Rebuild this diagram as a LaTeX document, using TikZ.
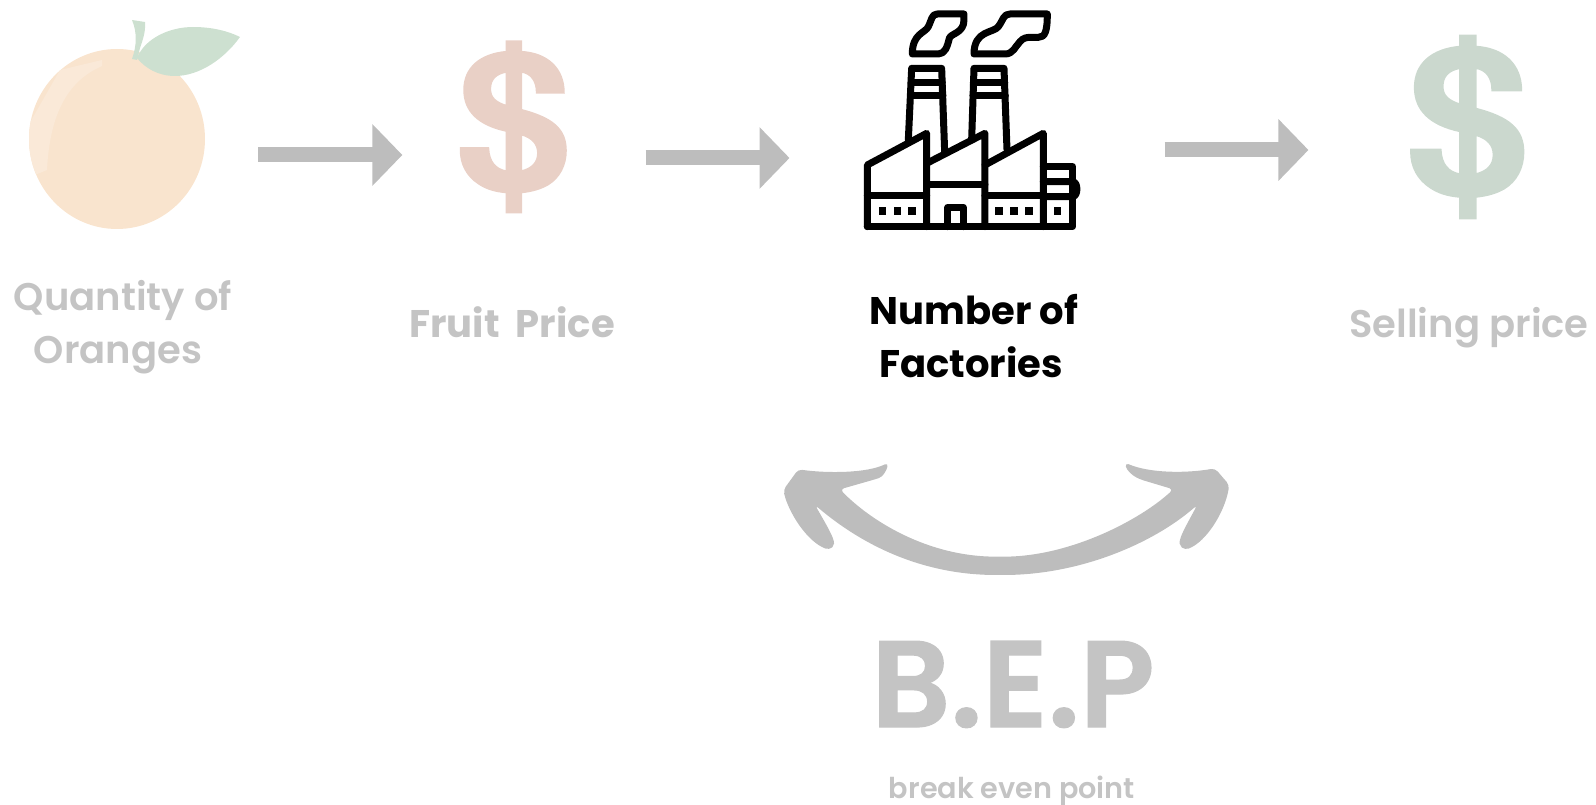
\documentclass[tikz,border=0pt]{standalone}
\usepackage{fontspec}
\usetikzlibrary{arrows.meta,calc}
\setmainfont{Poppins}[BoldFont={Poppins SemiBold}]
\newfontfamily\popb{Poppins Bold}
\newfontfamily\popbig{Poppins SemiBold}[FakeBold=1]
\newfontfamily\dollarfont{TeX Gyre Heros Bold}[FakeBold=1.2,FakeStretch=1.08]
\definecolor{arrowgray}{HTML}{BDBDBD}
\definecolor{labelgray}{HTML}{C4C4C4}
\definecolor{orangefill}{HTML}{F9E4CE}
\definecolor{orangehi}{HTML}{FAE9D8}
\definecolor{leafgreen}{HTML}{CDE0D0}
\definecolor{dollarred}{HTML}{E9D0C6}
\definecolor{dollargreen}{HTML}{CBD8CE}
\tikzset{
  x=1pt,y=-1pt,
  iconbox/.style={inner sep=0pt,outer sep=0pt,minimum width=#1},
  glabel/.style={anchor=base,inner sep=0pt,text=labelgray,font=\bfseries\fontsize{38.5}{38.5}\selectfont},
  blabel/.style={anchor=base,inner sep=0pt,text=black,font=\popb\fontsize{38.5}{38.5}\selectfont},
  bigarrow/.style={draw=arrowgray,line width=15pt,-{Triangle[length=30pt,width=60pt,fill=arrowgray]}},
  fline/.style={draw=black,line width=7pt,line join=round,line cap=round},
}
\begin{document}
\begin{tikzpicture}
\useasboundingbox (0,0) rectangle (1596,805);
% orange
\fill[orangefill] (117,139) ellipse [x radius=88,y radius=90];
\begin{scope}
\clip (117,139) ellipse [x radius=88,y radius=90];
\fill[orangehi] (102,60) -- (102,66) .. controls (70,80) and (50,110) .. (47,170) -- (35,175) -- (20,140) -- (60,70) -- cycle;
\end{scope}
\fill[leafgreen] (132,20) -- (145,22) .. controls (146,32) and (142,42) .. (140,48) -- (137,60) -- (132,59) .. controls (137,45) and (137,32) .. (132,20) -- cycle;
\fill[leafgreen] (137,58) .. controls (145,38) and (170,27) .. (193,27) .. controls (212,27) and (228,31) .. (240,37) .. controls (225,58) and (200,76) .. (175,76) .. controls (158,76) and (145,68) .. (137,58) -- cycle;
\node[iconbox=176pt,minimum height=180pt] (orange) at (117,139) {};
% dollars
\node[iconbox=108pt,text=dollarred,font=\dollarfont\fontsize{192}{192}\selectfont] (fruitprice) at (514,127) {\$};
\node[iconbox=113pt,text=dollargreen,font=\dollarfont\fontsize{205}{205}\selectfont] (sellprice) at (1468,127) {\$};
\node[iconbox=215pt,minimum height=225pt] (factory) at (973,113) {};
% arrows
\draw[bigarrow,shorten <=53pt,shorten >=54pt] ($(orange.east)+(0,16)$) -- ($(fruitprice.west)+(0,28)$);
\draw[bigarrow,shorten <=74pt,shorten >=76pt] ($(fruitprice.east)+(0,31)$) -- ($(factory.west)+(0,45)$);
\draw[bigarrow,shorten <=84pt,shorten >=98pt] ($(factory.east)+(0,37)$) -- ($(sellprice.west)+(0,23)$);
% factory
\begin{scope}[shift={(830,0)},x=0.3333pt,y=-0.3333pt]
\draw[fline] (402,42) -- (322,42) .. controls (305,42) and (305,60) .. (295,80) .. controls (285,100) and (247,100) .. (247,162) -- (325,162) .. controls (345,162) and (352,140) .. (358,115) .. controls (362,100) and (402,100) .. (402,60) -- cycle;
\draw[fline] (652,42) -- (540,42) .. controls (520,42) and (520,60) .. (505,80) .. controls (490,100) and (432,90) .. (432,162) -- (525,162) .. controls (550,162) and (555,140) .. (570,125) .. controls (580,113) and (590,112) .. (605,112) -- (625,112) .. controls (645,112) and (652,95) .. (652,42) -- cycle;
\draw[fline] (235,420) -- (245,205) -- (335,205) -- (344,455);
\draw[fline] (425,420) -- (432,205) -- (522,205) -- (531,448);
\draw[fline] (243,247) -- (337,247) (242,287) -- (339,287);
\draw[fline] (430,247) -- (524,247) (429,287) -- (526,287);
\draw[fline] (112,680) -- (112,495) -- (290,400) -- (290,680);
\draw[fline] (290,490) -- (465,400) -- (465,680);
\draw[fline] (465,495) -- (640,400) -- (640,680);
\draw[fline] (112,680) -- (728,680) -- (728,500) -- (640,500);
\draw[fline] (112,588) -- (290,588) (290,553) -- (465,553) (465,588) -- (640,588);
\draw[fline] (640,545) -- (728,545) .. controls (745,546) and (745,589) .. (728,590) -- (640,590);
\draw[fline] (354,680) -- (354,622) -- (400,622) -- (400,680);
\foreach \sx in {158,202,246,507,552,597,683}
  \fill[black] (\sx-11,622) rectangle (\sx+11,644);
\end{scope}
% double arc arrow
\begin{scope}[shift={(760,440)},x=0.3333pt,y=-0.3333pt]
\fill[arrowgray,rounded corners=4pt] (115,88) .. controls (200,100) and (320,100) .. (385,68) .. controls (380,90) and (370,110) .. (345,118) -- (240,148) .. controls (330,240) and (500,350) .. (720,350) .. controls (930,350) and (1140,240) .. (1240,148) -- (1140,118) .. controls (1115,105) and (1100,90) .. (1095,68) .. controls (1170,100) and (1280,100) .. (1365,85) -- (1408,135) .. controls (1395,215) and (1340,305) .. (1275,330) .. controls (1250,310) and (1260,290) .. (1312,195) .. controls (1180,310) and (960,405) .. (720,405) .. controls (480,405) and (300,310) .. (165,195) .. controls (220,290) and (230,310) .. (208,330) .. controls (140,305) and (85,215) .. (70,150) -- cycle;
\end{scope}
% labels
\node[glabel] (qty1) at (123,310) {Quantity of};
\node[glabel] (qty2) at (118,363) {Oranges};
\node[blabel,text=labelgray] (fruitlabel) at (512,337) {Fruit\ \ Price};
\node[blabel] (num1) at (974,324) {Number of};
\node[blabel] (num2) at (971,377) {Factories};
\node[glabel] (selllabel) at (1469,337) {Selling price};
\node[glabel,font=\popbig\fontsize{123}{123}\selectfont] (bep) at (1013,727) {B.E.P};
\node[glabel,font=\bfseries\fontsize{28.7}{28.7}\selectfont] (bepsub) at (1012,798) {\smash{break even point}};
\end{tikzpicture}
\end{document}
